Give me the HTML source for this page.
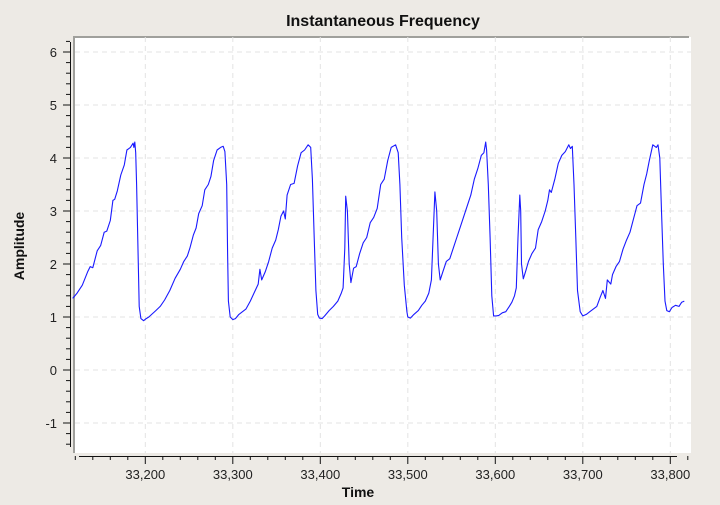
<!DOCTYPE html>
<html><head><meta charset="utf-8"><style>
html,body{margin:0;padding:0;background:#edeae5;}
svg{display:block;font-family:"Liberation Sans","DejaVu Sans",sans-serif;}
</style></head><body>
<svg id="chart" width="720" height="505" viewBox="0 0 720 505" xmlns="http://www.w3.org/2000/svg">
<rect x="0" y="0" width="720" height="505" fill="#edeae5"/>
<rect x="75" y="37" width="616" height="416" fill="#ffffff"/>
<line x1="73" y1="37" x2="689" y2="37" stroke="#a0a09c" stroke-width="2"/>
<line x1="74" y1="37" x2="74" y2="453" stroke="#a0a09c" stroke-width="2"/>
<g id="grid"></g>
<g id="series"></g>
<g id="yaxis"></g>
<g id="xaxis"></g>
<text x="383" y="26" text-anchor="middle" font-size="16" font-weight="bold" fill="#111">Instantaneous Frequency</text>
<text x="0" y="0" transform="translate(24,246) rotate(-90)" text-anchor="middle" font-size="14" font-weight="bold" fill="#111">Amplitude</text>
<text x="358" y="497" text-anchor="middle" font-size="14" font-weight="bold" fill="#111">Time</text>
</svg>
<script>
const times = [33117,33122,33128,33134,33137,33140,33145,33149,33153,33156,33160,33163,33165,33168,33172,33176,33179,33183,33186,33187,33188,33189,33190,33192,33193,33195,33198,33201,33204,
33212,33217,33222,33228,33234,33240,33244,33248,33251,33255,33258,33261,33265,33268,33272,33275,33278,33282,33286,33289,33291,33293,33294,33295,33297,33300,33303,33307,
33315,33320,33325,33329,33331,33333,33337,33341,33345,33349,33352,33355,33358,33360,33362,33366,33370,33374,33378,33382,33386,33389,33391,33393,33395,33397,33399,33402,33405,
33410,33415,33420,33424,33426,33428,33429,33431,33433,33435,33438,33441,33445,33449,33453,33457,33461,33465,33469,33473,33477,33481,33486,33489,33491,33493,33496,33499,33500,33503,33507,
33512,33516,33520,33524,33527,33531,33533,33535,33537,33540,33544,33548,33552,33556,33560,33564,33568,33572,33576,33580,33584,33587,33589,33590,33592,33594,33596,33598,33601,33604,
33608,33612,33616,33619,33622,33624,33626,33628,33629,33630,33632,33635,33638,33642,33646,33649,33653,33657,33660,33662,33664,33668,33672,33676,33680,33684,33686,33688,33690,33692,33694,33697,33700,33704,33708,
33712,33716,33720,33723,33726,33728,33732,33734,33738,33742,33746,33750,33754,33758,33762,33766,33770,33773,33776,33780,33784,33786,33788,33790,33792,33794,33796,33799,33802,33806,33810,33813,33816,33820];
const values = [1.35,1.45,1.6,1.85,1.95,1.93,2.25,2.35,2.6,2.62,2.82,3.2,3.22,3.38,3.68,3.87,4.15,4.2,4.28,4.2,4.3,4.1,3.5,2.0,1.2,0.97,0.93,0.97,1.0,
1.12,1.2,1.32,1.5,1.73,1.9,2.05,2.15,2.3,2.55,2.68,2.95,3.1,3.4,3.5,3.65,3.95,4.15,4.2,4.22,4.12,3.5,2.2,1.3,1.0,0.95,0.97,1.05,
1.15,1.3,1.48,1.62,1.9,1.7,1.85,2.05,2.3,2.45,2.65,2.9,3.0,2.85,3.3,3.5,3.52,3.85,4.1,4.15,4.25,4.2,3.6,2.5,1.5,1.05,0.98,0.97,1.02,
1.12,1.2,1.3,1.45,1.55,2.3,3.28,3.0,2.0,1.65,1.92,1.95,2.2,2.4,2.5,2.78,2.88,3.05,3.5,3.6,3.95,4.2,4.25,4.1,3.5,2.5,1.6,1.1,1.0,0.98,1.05,
1.12,1.22,1.3,1.45,1.7,3.36,3.0,2.0,1.7,1.85,2.05,2.1,2.3,2.5,2.7,2.9,3.1,3.3,3.6,3.8,4.05,4.1,4.3,4.15,3.5,2.5,1.4,1.02,1.02,1.03,
1.08,1.1,1.2,1.28,1.4,1.55,2.5,3.3,3.0,2.0,1.72,1.88,2.05,2.2,2.3,2.65,2.8,3.0,3.2,3.4,3.35,3.6,3.9,4.05,4.12,4.25,4.18,4.22,3.5,2.5,1.5,1.1,1.02,1.05,1.1,
1.15,1.2,1.38,1.5,1.35,1.7,1.62,1.8,1.95,2.05,2.28,2.45,2.6,2.85,3.1,3.15,3.5,3.7,3.95,4.25,4.2,4.25,4.0,3.0,2.0,1.3,1.12,1.1,1.18,1.22,1.2,1.28,1.3];
const yTicks = [6,5,4,3,2,1,0,-1];
const xTicks = [33200,33300,33400,33500,33600,33700,33800];
const xTickLabels = ["33,200","33,300","33,400","33,500","33,600","33,700","33,800"];

const NS = "http://www.w3.org/2000/svg";
function xs(t){ return 145.3 + (t - 33200) * 0.875; }
function ys(v){ return 370 - v * 53; }
function mk(tag, attrs, parent){
  const e = document.createElementNS(NS, tag);
  for (const k in attrs) e.setAttribute(k, attrs[k]);
  parent.appendChild(e);
  return e;
}
const grid = document.getElementById('grid');
const yaxis = document.getElementById('yaxis');
const xaxis = document.getElementById('xaxis');
const series = document.getElementById('series');

yTicks.forEach(function(v, i){
  const y = ys(v);
  const g = mk('line', {x1:75, x2:691, y1:y, y2:y, stroke:'#e3e3e3', 'stroke-dasharray':'5,4'}, grid);
  
  
  const t = mk('line', {x1:63, x2:70, y1:y, y2:y, stroke:'#111'}, yaxis);
  
  
  const l = mk('text', {x:57, y:y+5, 'text-anchor':'end', 'font-size':13, fill:'#222'}, yaxis);
  l.textContent = String(v).replace('-', '-');
  
  
});
for (let v = -1.4; v <= 6.21; v += 0.2){
  const r = Math.round(v * 10) / 10;
  if (Math.abs(r - Math.round(r)) < 0.01) continue;
  const y = ys(r);
  const t = mk('line', {x1:66, x2:70, y1:y, y2:y, stroke:'#111'}, yaxis);
  
  
}
const yl = mk('line', {x1:70.5, x2:70.5, y1:42, y2:447, stroke:'#111'}, yaxis);



xTicks.forEach(function(v, i){
  const x = xs(v);
  const g = mk('line', {x1:x, x2:x, y1:37, y2:453, stroke:'#e3e3e3', 'stroke-dasharray':'5,4'}, grid);
  
  
  const t = mk('line', {x1:x, x2:x, y1:456, y2:464, stroke:'#111'}, xaxis);
  
  
  const l = mk('text', {x:x, y:479, 'text-anchor':'middle', 'font-size':13, fill:'#222'}, xaxis);
  l.textContent = xTickLabels[i];
  
  
});
for (let v = 33120; v <= 33820; v += 20){
  if (v % 100 === 0) continue;
  const x = xs(v);
  const t = mk('line', {x1:x, x2:x, y1:456, y2:460, stroke:'#111'}, xaxis);
  
  
}
const xl = mk('line', {x1:79, x2:677, y1:456.5, y2:456.5, stroke:'#111'}, xaxis);



let d = '';
for (let i = 0; i < times.length; i++){
  d += (i ? 'L' : 'M') + xs(times[i]).toFixed(1) + ',' + ys(values[i]).toFixed(1);
}
const p = mk('path', {d:d, fill:'none', stroke:'#1a1aff', 'stroke-width':1.1, 'stroke-linejoin':'round'}, series);


</script>
</body></html>
